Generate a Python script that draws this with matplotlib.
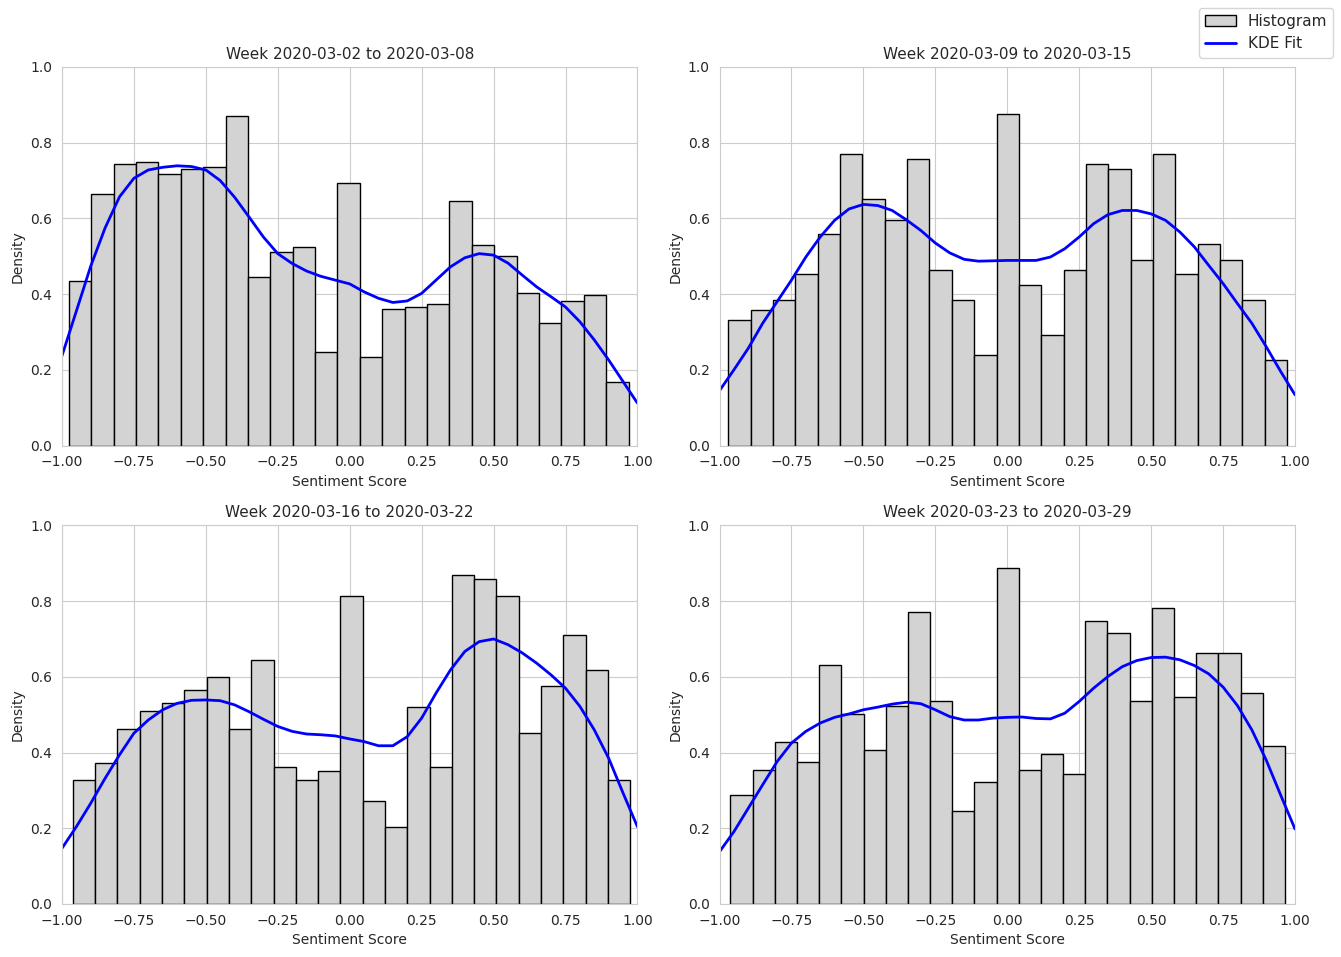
import numpy as np
import matplotlib
matplotlib.use('Agg')
import matplotlib.pyplot as plt
import seaborn as sns
from matplotlib.patches import Patch
from matplotlib.lines import Line2D

# Week titles
weeks = ['Week 2020-03-02 to 2020-03-08', 'Week 2020-03-09 to 2020-03-15',
         'Week 2020-03-16 to 2020-03-22', 'Week 2020-03-23 to 2020-03-29']

# Histogram range (min / max sentiment of each week), 25 bins each
bin_lo = [-0.976, -0.969, -0.962, -0.962]
bin_hi = [0.969, 0.972, 0.975, 0.965]

# Histogram densities (25 bins per week)
hist_w1 = [0.434, 0.665, 0.744, 0.750, 0.718, 0.731, 0.736, 0.870, 0.446, 0.512, 0.525, 0.246, 0.694,
           0.233, 0.362, 0.367, 0.373, 0.646, 0.531, 0.502, 0.404, 0.325, 0.381, 0.399, 0.168]
hist_w2 = [0.331, 0.358, 0.384, 0.452, 0.558, 0.770, 0.650, 0.596, 0.757, 0.465, 0.384, 0.239, 0.876,
           0.423, 0.291, 0.465, 0.744, 0.731, 0.491, 0.770, 0.452, 0.532, 0.491, 0.384, 0.225]
hist_w3 = [0.327, 0.372, 0.462, 0.509, 0.531, 0.566, 0.599, 0.462, 0.644, 0.361, 0.327, 0.351, 0.813,
           0.271, 0.203, 0.520, 0.361, 0.869, 0.858, 0.813, 0.451, 0.576, 0.710, 0.619, 0.327]
hist_w4 = [0.287, 0.354, 0.428, 0.374, 0.631, 0.501, 0.407, 0.522, 0.772, 0.536, 0.245, 0.322, 0.887,
           0.353, 0.396, 0.343, 0.748, 0.715, 0.536, 0.781, 0.546, 0.663, 0.663, 0.557, 0.417]

# KDE curve read every 0.05 from -1 to 1
kde_x = np.round(np.arange(-1.0, 1.0001, 0.05), 2)
kde_w1 = [0.237, 0.355, 0.474, 0.575, 0.657, 0.706, 0.728, 0.735, 0.739, 0.737, 0.728, 0.700, 0.656,
          0.604, 0.551, 0.507, 0.481, 0.461, 0.447, 0.437, 0.427,
          0.406, 0.389, 0.378, 0.382, 0.402, 0.437, 0.472, 0.496, 0.507, 0.503, 0.482, 0.450, 0.419,
          0.393, 0.366, 0.327, 0.279, 0.226, 0.169, 0.112]
kde_w2 = [0.145, 0.200, 0.257, 0.323, 0.380, 0.437, 0.498, 0.551, 0.595, 0.625, 0.637, 0.634, 0.621,
          0.596, 0.568, 0.535, 0.509, 0.492, 0.487, 0.488, 0.489,
          0.489, 0.489, 0.498, 0.520, 0.551, 0.586, 0.610, 0.621, 0.621, 0.612, 0.595, 0.564, 0.525,
          0.476, 0.428, 0.375, 0.323, 0.261, 0.196, 0.134]
kde_w3 = [0.147, 0.204, 0.266, 0.332, 0.394, 0.451, 0.486, 0.513, 0.530, 0.538, 0.539, 0.537, 0.526,
          0.508, 0.488, 0.469, 0.456, 0.449, 0.447, 0.444, 0.436,
          0.429, 0.418, 0.418, 0.442, 0.491, 0.557, 0.618, 0.667, 0.693, 0.700, 0.685, 0.663, 0.636,
          0.605, 0.570, 0.522, 0.460, 0.385, 0.293, 0.204]
kde_w4 = [0.138, 0.191, 0.253, 0.315, 0.376, 0.425, 0.456, 0.478, 0.493, 0.502, 0.513, 0.520, 0.528,
          0.533, 0.529, 0.513, 0.495, 0.486, 0.486, 0.491, 0.493,
          0.494, 0.490, 0.489, 0.504, 0.535, 0.570, 0.601, 0.627, 0.643, 0.651, 0.652, 0.645, 0.630,
          0.608, 0.573, 0.524, 0.460, 0.380, 0.288, 0.198]

hists = [hist_w1, hist_w2, hist_w3, hist_w4]
kdes = [kde_w1, kde_w2, kde_w3, kde_w4]

sns.set_style('whitegrid')

fig, axes = plt.subplots(2, 2, figsize=(13.41, 9.57), dpi=100)
fig.subplots_adjust(left=0.0462, right=0.9657, top=0.930, bottom=0.0554, wspace=0.1426, hspace=0.211)

for i, ax in enumerate(axes.flat):
    edges = np.linspace(bin_lo[i], bin_hi[i], len(hists[i]) + 1)
    ax.bar(edges[:-1], hists[i], width=np.diff(edges), align='edge',
           color='lightgray', edgecolor='black', linewidth=1)
    ax.plot(kde_x, kdes[i], color='blue', linewidth=2)
    ax.set_xlim(-1, 1)
    ax.set_ylim(0, 1)
    ax.set_title(weeks[i], fontsize=11)
    ax.set_xlabel('Sentiment Score')
    ax.set_ylabel('Density')

handles = [Patch(facecolor='lightgray', edgecolor='black', label='Histogram'),
           Line2D([0], [0], color='blue', linewidth=2, label='KDE Fit')]
fig.legend(handles=handles, loc='upper right', fontsize=11)

plt.savefig('out.png', dpi=100)
